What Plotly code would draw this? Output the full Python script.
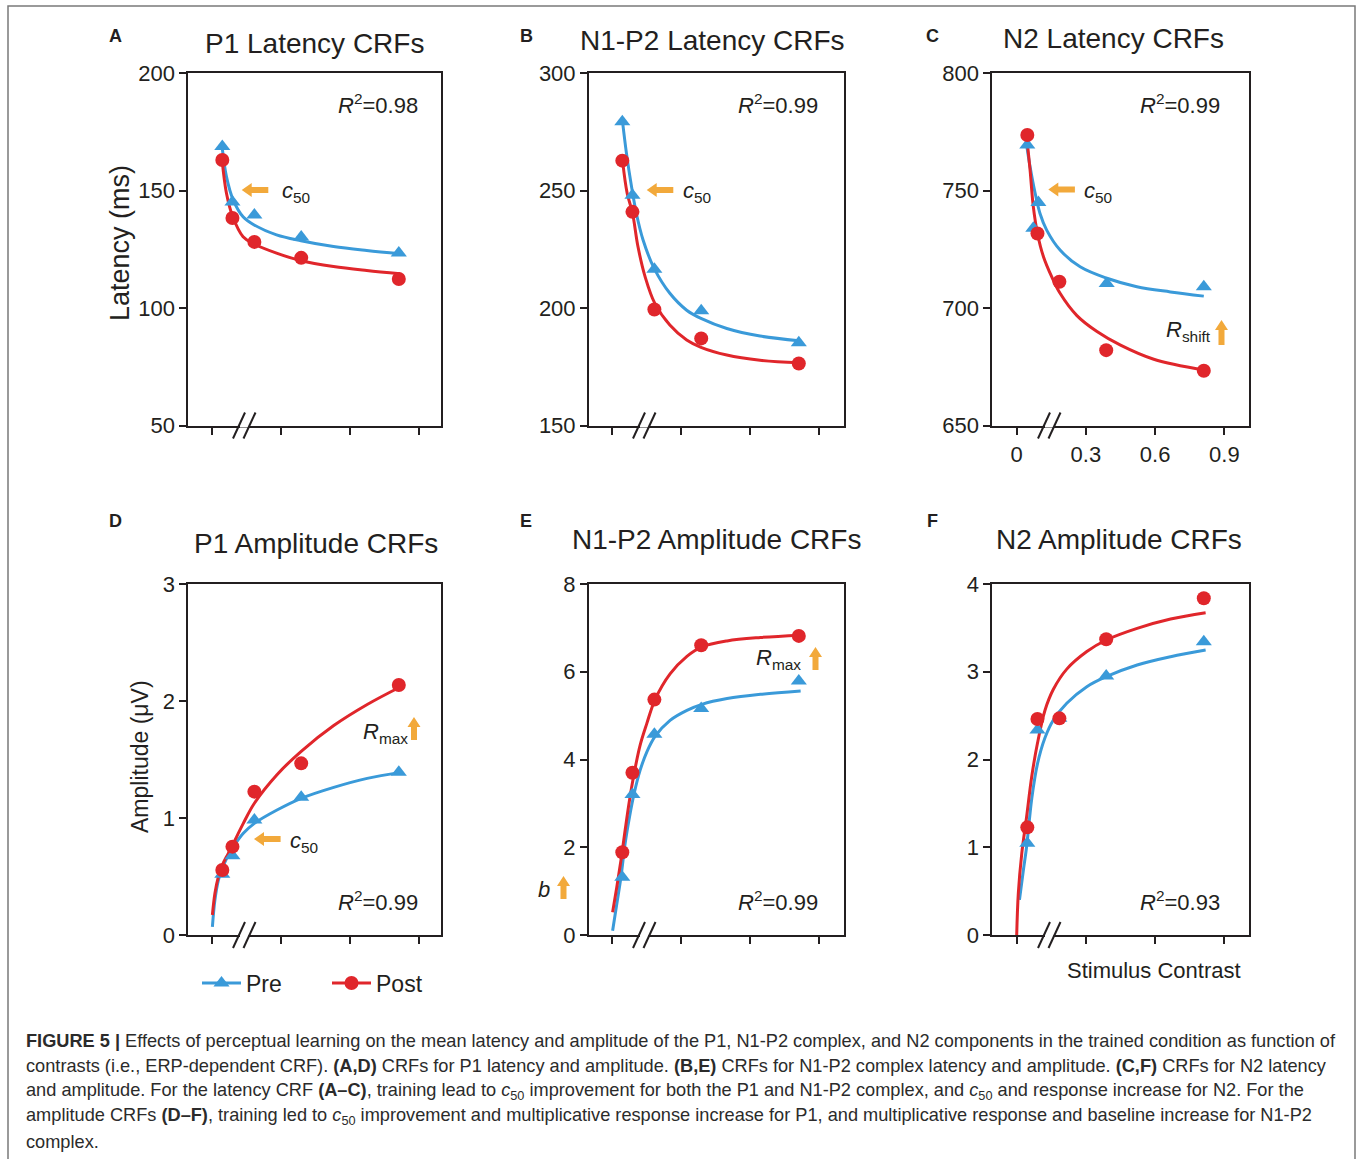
import plotly.graph_objects as go

W, H = 1358, 1159
FONT = "Liberation Sans, Arial, Helvetica, sans-serif"
INK = "#231F20"
BLUE = "#3A9AD9"
RED = "#E0262B"
ORANGE = "#F2A93B"

# ---------------- data ----------------
# stimulus contrast of the measured points
contrast = [0.046, 0.09, 0.185, 0.388, 0.811]
contrast_n2_pre = [0.046, 0.072, 0.094, 0.39, 0.811]

# P1 latency (ms)
p1_lat_pre = [168.8, 145.2, 139.7, 130.3, 123.5]
p1_lat_post = [163.1, 138.4, 128.2, 121.4, 112.4]
# N1-P2 latency (ms)
n1p2_lat_pre = [279.4, 248.1, 216.5, 198.9, 185.2]
n1p2_lat_post = [262.8, 241.0, 199.4, 187.1, 176.4]
# N2 latency (ms)
n2_lat_pre = [769.5, 734.0, 745.0, 710.5, 709.1]
n2_lat_post = [773.7, 731.8, 711.2, 682.1, 673.3]
# P1 amplitude (uV)
p1_amp_pre = [0.52, 0.678, 0.983, 1.177, 1.39]
p1_amp_post = [0.556, 0.755, 1.225, 1.467, 2.137]
# N1-P2 amplitude (uV)
n1p2_amp_pre = [1.315, 3.203, 4.573, 5.16, 5.79]
n1p2_amp_post = [1.886, 3.699, 5.365, 6.605, 6.817]
# N2 amplitude (uV)
n2_amp_pre = [1.045, 2.336, 2.47, 2.952, 3.343]
n2_amp_post = [1.227, 2.462, 2.469, 3.37, 3.837]

# fitted contrast-response curves (sampled along the fit)
p1_lat_pre_fit_x = [0.045, 0.064, 0.093, 0.136, 0.184, 0.281, 0.387, 0.528, 0.672, 0.817]
p1_lat_pre_fit_y = [168.8, 156.0, 146.1, 138.9, 135.4, 131.2, 128.7, 126.2, 124.5, 123.1]
p1_lat_post_fit_x = [0.045, 0.064, 0.091, 0.136, 0.184, 0.281, 0.387, 0.528, 0.672, 0.817]
p1_lat_post_fit_y = [163.1, 148.9, 139.0, 130.4, 127.3, 123.4, 120.2, 117.7, 116.0, 114.6]

n1p2_lat_pre_fit_x = [0.047, 0.064, 0.086, 0.107, 0.136, 0.184, 0.252, 0.325, 0.387, 0.499, 0.643, 0.812]
n1p2_lat_pre_fit_y = [279.4, 265.9, 251.7, 240.3, 229.0, 216.9, 206.3, 199.1, 195.6, 191.3, 188.1, 186.1]
n1p2_lat_post_fit_x = [0.047, 0.067, 0.09, 0.114, 0.145, 0.187, 0.252, 0.325, 0.387, 0.499, 0.643, 0.812]
n1p2_lat_post_fit_y = [262.8, 248.9, 240.6, 226.1, 213.3, 202.0, 192.8, 186.4, 183.3, 180.0, 177.8, 176.7]

n2_lat_pre_fit_x = [0.043, 0.058, 0.08, 0.101, 0.13, 0.188, 0.275, 0.391, 0.521, 0.666, 0.811]
n2_lat_pre_fit_y = [769.5, 760.2, 748.9, 740.3, 733.2, 724.7, 717.6, 712.7, 709.1, 706.9, 705.1]
n2_lat_post_fit_x = [0.043, 0.058, 0.072, 0.09, 0.116, 0.152, 0.188, 0.261, 0.348, 0.45, 0.594, 0.811]
n2_lat_post_fit_y = [773.7, 758.8, 743.2, 731.8, 721.9, 713.3, 706.3, 696.8, 690.0, 684.2, 678.2, 673.6]

p1_amp_pre_fit_x = [0.003, 0.014, 0.029, 0.046, 0.072, 0.094, 0.137, 0.185, 0.283, 0.388, 0.529, 0.674, 0.819]
p1_amp_pre_fit_y = [0.07, 0.30, 0.47, 0.57, 0.684, 0.755, 0.869, 0.954, 1.068, 1.168, 1.262, 1.339, 1.39]
p1_amp_post_fit_x = [0.003, 0.014, 0.029, 0.046, 0.072, 0.094, 0.137, 0.185, 0.283, 0.388, 0.529, 0.674, 0.819]
p1_amp_post_fit_y = [0.171, 0.356, 0.499, 0.598, 0.698, 0.784, 0.954, 1.126, 1.37, 1.57, 1.79, 1.97, 2.122]

n1p2_amp_pre_fit_x = [0.004, 0.022, 0.04, 0.058, 0.077, 0.097, 0.123, 0.152, 0.188, 0.253, 0.326, 0.391, 0.5, 0.645, 0.819]
n1p2_amp_pre_fit_y = [0.098, 0.708, 1.315, 2.078, 2.685, 3.219, 3.751, 4.169, 4.527, 4.893, 5.121, 5.258, 5.388, 5.486, 5.562]
n1p2_amp_post_fit_x = [0.004, 0.022, 0.04, 0.058, 0.077, 0.097, 0.123, 0.152, 0.188, 0.253, 0.326, 0.391, 0.5, 0.645, 0.819]
n1p2_amp_post_fit_y = [0.516, 1.087, 1.696, 2.381, 3.066, 3.676, 4.322, 4.817, 5.365, 5.95, 6.35, 6.566, 6.703, 6.781, 6.833]

n2_amp_pre_fit_x = [0.012, 0.029, 0.043, 0.065, 0.09, 0.123, 0.159, 0.217, 0.304, 0.388, 0.522, 0.667, 0.819]
n2_amp_pre_fit_y = [0.40, 0.741, 1.006, 1.55, 1.95, 2.25, 2.45, 2.641, 2.83, 2.944, 3.077, 3.172, 3.248]
n2_amp_post_fit_x = [0.0, 0.007, 0.022, 0.043, 0.065, 0.09, 0.123, 0.159, 0.217, 0.304, 0.388, 0.522, 0.667, 0.819]
n2_amp_post_fit_y = [0.0, 0.475, 0.931, 1.348, 1.804, 2.185, 2.564, 2.80, 3.03, 3.23, 3.362, 3.495, 3.601, 3.673]

# axis settings per panel
y_ranges = [[50, 200], [150, 300], [650, 800], [0, 3], [0, 8], [0, 4]]
y_ticks = [[50, 100, 150, 200], [150, 200, 250, 300], [650, 700, 750, 800],
           [0, 1, 2, 3], [0, 2, 4, 6, 8], [0, 1, 2, 3, 4]]
x_ticks = [0, 0.3, 0.6, 0.9]
x_ticktext = ["0", "0.3", "0.6", "0.9"]
r2_text = ["0.98", "0.99", "0.99", "0.99", "0.99", "0.93"]
titles = ["P1 Latency CRFs", "N1-P2 Latency CRFs", "N2 Latency CRFs",
          "P1 Amplitude CRFs", "N1-P2 Amplitude CRFs", "N2 Amplitude CRFs"]
letters = ["A", "B", "C", "D", "E", "F"]

panels = [
    dict(xp=contrast, pre=p1_lat_pre, xq=contrast, post=p1_lat_post,
         fpx=p1_lat_pre_fit_x, fpy=p1_lat_pre_fit_y, fqx=p1_lat_post_fit_x, fqy=p1_lat_post_fit_y),
    dict(xp=contrast, pre=n1p2_lat_pre, xq=contrast, post=n1p2_lat_post,
         fpx=n1p2_lat_pre_fit_x, fpy=n1p2_lat_pre_fit_y, fqx=n1p2_lat_post_fit_x, fqy=n1p2_lat_post_fit_y),
    dict(xp=contrast_n2_pre, pre=n2_lat_pre, xq=contrast, post=n2_lat_post,
         fpx=n2_lat_pre_fit_x, fpy=n2_lat_pre_fit_y, fqx=n2_lat_post_fit_x, fqy=n2_lat_post_fit_y),
    dict(xp=contrast, pre=p1_amp_pre, xq=contrast, post=p1_amp_post,
         fpx=p1_amp_pre_fit_x, fpy=p1_amp_pre_fit_y, fqx=p1_amp_post_fit_x, fqy=p1_amp_post_fit_y),
    dict(xp=contrast, pre=n1p2_amp_pre, xq=contrast, post=n1p2_amp_post,
         fpx=n1p2_amp_pre_fit_x, fpy=n1p2_amp_pre_fit_y, fqx=n1p2_amp_post_fit_x, fqy=n1p2_amp_post_fit_y),
    dict(xp=contrast, pre=n2_amp_pre, xq=contrast, post=n2_amp_post,
         fpx=n2_amp_pre_fit_x, fpy=n2_amp_pre_fit_y, fqx=n2_amp_post_fit_x, fqy=n2_amp_post_fit_y),
]

# ---------------- layout geometry (pixels) ----------------
col_px = [(188.3, 441.2), (589.0, 843.8), (992.3, 1248.5)]
col_zero = [211.7, 611.7, 1016.7]
row_px = [(73.3, 425.5), (584.0, 935.0)]
PX_PER_UNIT = 230.7


def fx(px):
    return px / W


def fy(py):
    return 1 - py / H


fig = go.Figure()
layout_axes = {}
shapes = []
annotations = []

for i, p in enumerate(panels):
    r, c = divmod(i, 3)
    n = "" if i == 0 else str(i + 1)
    xa, ya = "x" + n, "y" + n
    left, right = col_px[c]
    top, bottom = row_px[r]
    z = col_zero[c]
    layout_axes["xaxis" + n] = dict(
        domain=[fx(left), fx(right)],
        range=[(left - z) / PX_PER_UNIT, (right - z) / PX_PER_UNIT],
        anchor=ya, showline=True, mirror=True, linecolor=INK, linewidth=2,
        ticks="outside", ticklen=7, tickwidth=2, tickcolor=INK,
        tickvals=x_ticks, ticktext=x_ticktext, showticklabels=(i == 2),
        ticklabelstandoff=1, automargin=False,
        tickfont=dict(size=22, color=INK, family=FONT),
        showgrid=False, zeroline=False, fixedrange=True,
    )
    layout_axes["yaxis" + n] = dict(
        domain=[fy(bottom), fy(top)], range=y_ranges[i], anchor=xa,
        showline=True, mirror=True, linecolor=INK, linewidth=2,
        ticks="outside", ticklen=7, tickwidth=2, tickcolor=INK, automargin=False,
        tickvals=y_ticks[i], tickfont=dict(size=22, color=INK, family=FONT),
        showgrid=False, zeroline=False, fixedrange=True,
    )

    # fitted curves
    fig.add_trace(go.Scatter(x=p["fpx"], y=p["fpy"], mode="lines", xaxis=xa, yaxis=ya,
                             line=dict(color=BLUE, width=3, shape="spline", smoothing=1.0),
                             showlegend=False, hoverinfo="skip"))
    fig.add_trace(go.Scatter(x=p["fqx"], y=p["fqy"], mode="lines", xaxis=xa, yaxis=ya,
                             line=dict(color=RED, width=3, shape="spline", smoothing=1.0),
                             showlegend=False, hoverinfo="skip"))
    # measured points
    fig.add_trace(go.Scatter(x=p["xp"], y=p["pre"], mode="markers", xaxis=xa, yaxis=ya,
                             marker=dict(symbol="triangle-up", size=14, color=BLUE),
                             showlegend=False, cliponaxis=False))
    fig.add_trace(go.Scatter(x=p["xq"], y=p["post"], mode="markers", xaxis=xa, yaxis=ya,
                             marker=dict(symbol="circle", size=14, color=RED),
                             showlegend=False, cliponaxis=False))

    # axis break "//" on the contrast axis
    b1, b2 = z + 27.3, z + 37.8
    shapes.append(dict(type="line", xref="paper", yref="paper",
                       x0=fx(b1 + 1), x1=fx(b2 - 1), y0=fy(bottom), y1=fy(bottom),
                       line=dict(color="white", width=4)))
    for bc in (b1, b2):
        shapes.append(dict(type="line", xref="paper", yref="paper",
                           x0=fx(bc - 6), y0=fy(bottom + 13), x1=fx(bc + 6), y1=fy(bottom - 13),
                           line=dict(color=INK, width=2)))

    # panel letter, title, goodness of fit
    lx = [115, 526, 932][c]
    ly = [36, 521][r]
    annotations.append(dict(x=fx(lx), y=fy(ly), text="<b>%s</b>" % letters[i],
                            font=dict(size=18, color=INK, family=FONT)))
    tx = [[314, 712, 1113], [316, 716, 1119]][r][c]
    ty = [[43, 41, 38], [543, 539, 539]][r][c]
    annotations.append(dict(x=fx(tx), y=fy(ty), text=titles[i],
                            font=dict(size=28, color=INK, family=FONT)))
    rx = [420, 820, 1222][c]
    ry = [104, 901][r]
    annotations.append(dict(x=fx(rx), y=fy(ry), xanchor="right",
                            text="<i>R</i><sup>2</sup>=%s" % r2_text[i],
                            font=dict(size=22, color=INK, family=FONT)))


def arrow_left(tx, ty, length):
    pts = [(tx, ty), (tx + 10, ty - 7), (tx + 10, ty - 3), (tx + length, ty - 3),
           (tx + length, ty + 3), (tx + 10, ty + 3), (tx + 10, ty + 7)]
    return "M " + " L ".join("%f,%f" % (fx(a), fy(b)) for a, b in pts) + " Z"


def arrow_up(tx, ty, length):
    pts = [(tx, ty), (tx + 6.5, ty + 10), (tx + 3, ty + 10), (tx + 3, ty + length),
           (tx - 3, ty + length), (tx - 3, ty + 10), (tx - 6.5, ty + 10)]
    return "M " + " L ".join("%f,%f" % (fx(a), fy(b)) for a, b in pts) + " Z"


for tx, ty in [(241.7, 190), (646.7, 190), (1048.3, 189.5), (254, 839)]:
    shapes.append(dict(type="path", xref="paper", yref="paper", path=arrow_left(tx, ty, 26.6),
                       fillcolor=ORANGE, line=dict(width=0)))
for tx, ty, ln in [(414, 717, 23), (815.5, 647, 23), (1221.5, 320, 25), (563.5, 876, 23)]:
    shapes.append(dict(type="path", xref="paper", yref="paper", path=arrow_up(tx, ty, ln),
                       fillcolor=ORANGE, line=dict(width=0)))

c50 = "<i>c</i><sub>50</sub>"
for x0, y0 in [(280, 192), (681, 192), (1082, 192), (288, 842)]:
    annotations.append(dict(x=fx(x0), y=fy(y0), xanchor="left", text=c50,
                            font=dict(size=22, color=INK, family=FONT)))
for x0, y0, txt in [(361, 733, "<i>R</i><sub>max</sub>"), (754, 659, "<i>R</i><sub>max</sub>"),
                    (1164, 331, "<i>R</i><sub>shift</sub>"), (536, 889, "<i>b</i>")]:
    annotations.append(dict(x=fx(x0), y=fy(y0), xanchor="left", text=txt,
                            font=dict(size=22, color=INK, family=FONT)))

# axis titles
annotations.append(dict(x=fx(120), y=fy(243), text="Latency (ms)", textangle=-90,
                        font=dict(size=27, color=INK, family=FONT)))
annotations.append(dict(x=fx(140), y=fy(757), text="Amplitude (\u03bcV)", textangle=-90,
                        font=dict(size=23, color=INK, family=FONT)))
annotations.append(dict(x=fx(1154), y=fy(970), text="Stimulus Contrast",
                        font=dict(size=22, color=INK, family=FONT)))

# caption
caption_lines = [
    "<b>FIGURE 5 |</b> Effects of perceptual learning on the mean latency and amplitude of the P1, N1-P2 complex, and N2 components in the trained condition as function of",
    "contrasts (i.e., ERP-dependent CRF). <b>(A,D)</b> CRFs for P1 latency and amplitude. <b>(B,E)</b> CRFs for N1-P2 complex latency and amplitude. <b>(C,F)</b> CRFs for N2 latency",
    "and amplitude. For the latency CRF <b>(A\u2013C)</b>, training lead to " + c50 + " improvement for both the P1 and N1-P2 complex, and " + c50 + " and response increase for N2. For the",
    "amplitude CRFs <b>(D\u2013F)</b>, training led to " + c50 + " improvement and multiplicative response increase for P1, and multiplicative response and baseline increase for N1-P2",
    "complex.",
]
for k, line in enumerate(caption_lines):
    annotations.append(dict(x=fx(24), y=fy(1041 + 25.3 * k), xanchor="left", text=line,
                            font=dict(size=18.2, color="#2b2b2b", family=FONT)))

for a in annotations:
    a.setdefault("xref", "paper")
    a.setdefault("yref", "paper")
    a.setdefault("showarrow", False)
    a.setdefault("yanchor", "middle")
    a.setdefault("xanchor", "center")

# outer frame of the figure
shapes.append(dict(type="rect", xref="paper", yref="paper", x0=fx(8), y0=fy(1175), x1=fx(1355), y1=fy(6),
                   line=dict(color="#7a7a7a", width=1.5)))

# legend entries
fig.add_trace(go.Scatter(x=[None], y=[None], mode="lines+markers", name="Pre",
                         line=dict(color=BLUE, width=3),
                         marker=dict(symbol="triangle-up", size=14, color=BLUE)))
fig.add_trace(go.Scatter(x=[None], y=[None], mode="lines+markers", name="Post",
                         line=dict(color=RED, width=3),
                         marker=dict(symbol="circle", size=14, color=RED)))

fig.update_layout(
    width=W, height=H, margin=dict(l=0, r=0, t=0, b=0, autoexpand=False),
    paper_bgcolor="white", plot_bgcolor="white",
    font=dict(family=FONT, color=INK),
    showlegend=True,
    legend=dict(orientation="h", x=fx(197), y=fy(983), xanchor="left", yanchor="middle",
                font=dict(size=23, color=INK, family=FONT), itemwidth=39,
                entrywidth=76, bgcolor="rgba(0,0,0,0)", traceorder="normal"),
    shapes=shapes, annotations=annotations,
    **layout_axes,
)

fig.write_html("out.html")
